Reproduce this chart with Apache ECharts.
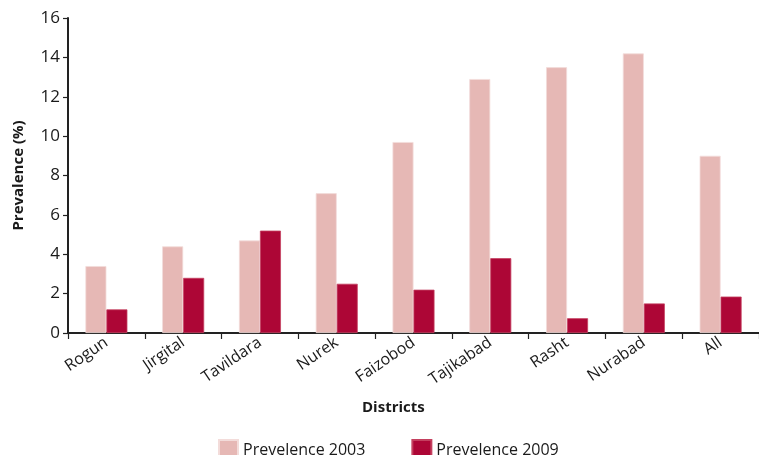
<!DOCTYPE html>
<html>
<head>
<meta charset="utf-8">
<script src="https://cdn.jsdelivr.net/npm/echarts@6/dist/echarts.min.js"></script>
<style>
  html, body { margin: 0; padding: 0; background: #fff; }
  #chart { width: 759px; height: 455px; }
</style>
</head>
<body>
<div id="chart"></div>
<script>
// Districts and prevalence (%) for the two survey years
const districts = ['Rogun', 'Jirgital', 'Tavildara', 'Nurek', 'Faizobod', 'Tajikabad', 'Rasht', 'Nurabad', 'All'];
const prev2003 = [3.4, 4.4, 4.7, 7.1, 9.7, 12.9, 13.5, 14.2, 9.0];
const prev2009 = [1.2, 2.8, 5.2, 2.5, 2.2, 3.8, 0.75, 1.5, 1.85];
const seriesNames = ['Prevelence 2003', 'Prevelence 2009'];

const FONT = '"Open Sans", "Noto Sans", sans-serif';
const chart = echarts.init(document.getElementById('chart'), null, { renderer: 'canvas' });

chart.setOption({
  animation: false,
  backgroundColor: '#ffffff',
  textStyle: { fontFamily: FONT, color: '#1a1a1a' },
  grid: { left: 68, right: 0, top: 18, bottom: 122, containLabel: false },
  title: {
    text: 'Districts',
    left: 357,
    top: 395,
    textStyle: { fontSize: 15, fontWeight: 'bold', color: '#1a1a1a', fontFamily: FONT }
  },
  legend: {
    data: [
      { name: seriesNames[0], textStyle: { padding: [0, 0, 0, 0] } },
      { name: seriesNames[1], textStyle: { padding: [4, 0, 0, 0] } }
    ],
    left: 213,
    top: 434,
    itemWidth: 19,
    itemHeight: 20,
    itemGap: 46,
    icon: 'rect',
    textStyle: { fontSize: 16, color: '#1a1a1a', fontFamily: FONT, lineHeight: 18 }
  },
  xAxis: {
    type: 'category',
    data: districts,
    axisLine: { lineStyle: { color: '#222', width: 2 } },
    axisTick: { show: true, length: 6, lineStyle: { color: '#222', width: 1.2 } },
    axisLabel: { rotate: 34, fontSize: 16, color: '#1a1a1a', margin: 8, interval: 0 }
  },
  yAxis: {
    type: 'value',
    min: 0,
    max: 16,
    interval: 2,
    name: 'Prevalence (%)',
    nameLocation: 'middle',
    nameGap: 42,
    nameTextStyle: { fontSize: 15, fontWeight: 'bold', color: '#1a1a1a' },
    axisLine: { show: true, lineStyle: { color: '#222', width: 2 } },
    axisTick: { show: true, length: 5, lineStyle: { color: '#222', width: 1.2 } },
    splitLine: { show: false },
    axisLabel: { fontSize: 17, color: '#1a1a1a', margin: 8 }
  },
  series: [
    {
      name: seriesNames[0],
      type: 'bar',
      data: prev2003,
      barWidth: 21,
      barGap: '0%',
      itemStyle: { color: '#E6B8B5', borderColor: '#F3DCDA', borderWidth: 0.8 }
    },
    {
      name: seriesNames[1],
      type: 'bar',
      data: prev2009,
      barWidth: 21,
      barGap: '0%',
      itemStyle: { color: '#AD0636', borderColor: '#C4405F', borderWidth: 0.8 }
    }
  ]
});
</script>
</body>
</html>
